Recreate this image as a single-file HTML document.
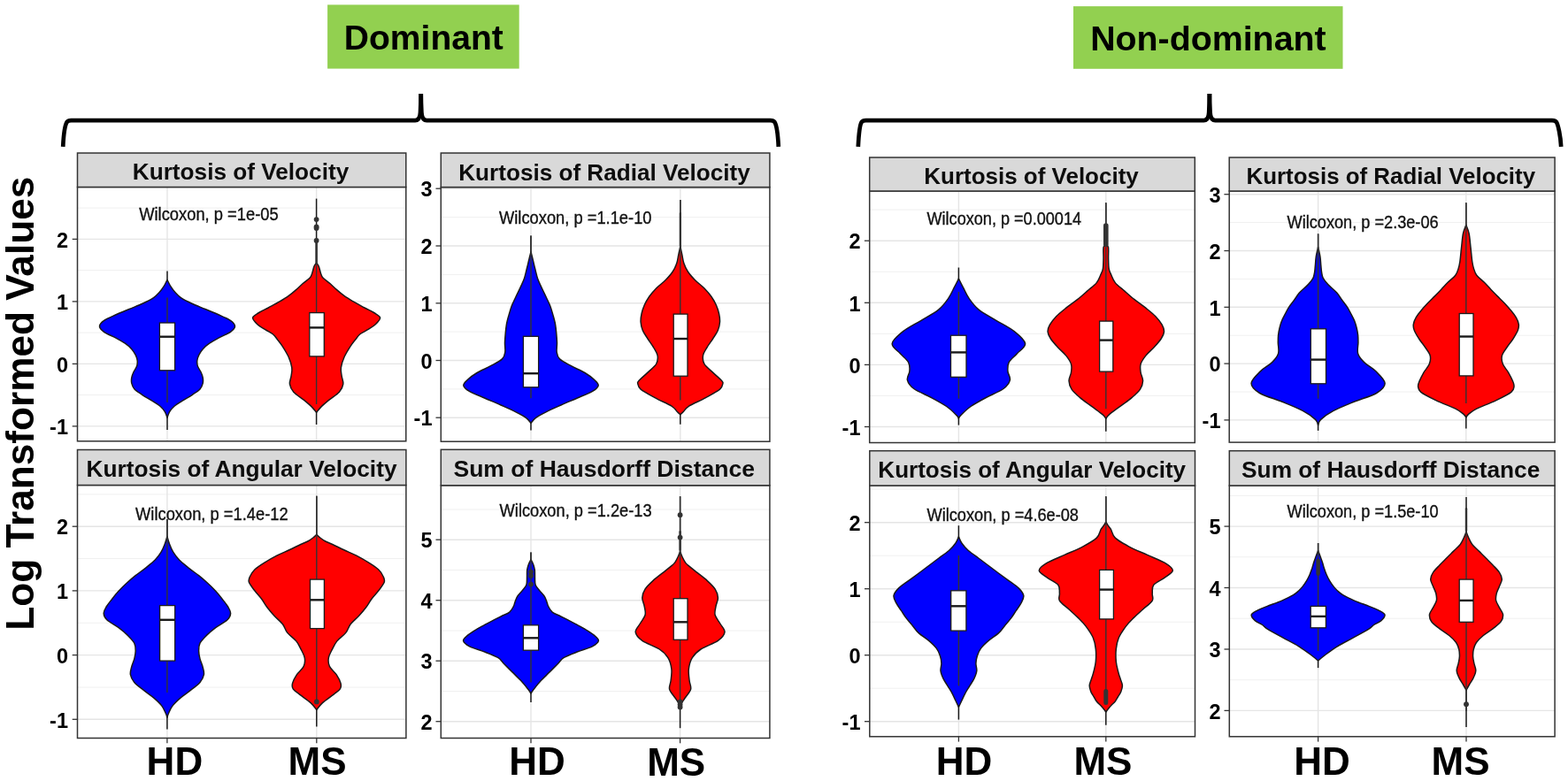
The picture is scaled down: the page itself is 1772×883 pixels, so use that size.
<!DOCTYPE html>
<html><head><meta charset="utf-8"><title>Violin plots</title>
<style>html,body{margin:0;padding:0;background:#fff;overflow:hidden;width:1772px;height:883px;}svg{display:block;}</style>
</head><body>
<svg width="1772" height="883" viewBox="0 0 1772 883">
<rect width="1772" height="883" fill="#ffffff"/>
<rect x="370.1" y="5.4" width="216.6" height="72.2" fill="#92D050"/>
<text x="478.8" y="55.7" text-anchor="middle" font-family="Liberation Sans, Arial, sans-serif" font-weight="bold" font-size="38.8" textLength="180" lengthAdjust="spacingAndGlyphs" fill="#000">Dominant</text>
<rect x="1213" y="7.1" width="304.5" height="70.7" fill="#92D050"/>
<text x="1365.4" y="56.8" text-anchor="middle" font-family="Liberation Sans, Arial, sans-serif" font-weight="bold" font-size="38.3" textLength="266.5" lengthAdjust="spacingAndGlyphs" fill="#000">Non-dominant</text>
<path d="M71.2,165.8 C71.8,153.8 73.7,141.1 75.5,138.1 Q76.9,136.1 80.5,136.1 L469.2,136.1 C473.5,136.1 474.7,132.1 475.0,127.1 C475.34999999999997,120.1 475.59999999999997,114.1 475.59999999999997,106.1" fill="none" stroke="#000" stroke-width="4.7" stroke-linejoin="round"/>
<path d="M475.8,106.1 C475.8,114.1 476.05,120.1 476.4,127.1 C476.7,132.1 477.9,136.1 482.2,136.1 L870.5,136.1 Q874.1,136.1 875.5,138.1 C877.3,141.1 879.1999999999999,153.8 879.8,165.8" fill="none" stroke="#000" stroke-width="4.7" stroke-linejoin="round"/>
<path d="M969.8,165.8 C970.4,153.8 971.8000000000001,141.1 973.6,138.1 Q975.0,136.1 978.6,136.1 L1360.4,136.1 C1364.7,136.1 1365.9,132.1 1366.2,127.1 C1366.5500000000002,120.1 1366.8000000000002,114.1 1366.8000000000002,106.1" fill="none" stroke="#000" stroke-width="4.7" stroke-linejoin="round"/>
<path d="M1367.0,106.1 C1367.0,114.1 1367.25,120.1 1367.6000000000001,127.1 C1367.9,132.1 1369.1000000000001,136.1 1373.4,136.1 L1754.0,136.1 Q1757.6,136.1 1759.0,138.1 C1760.8,141.1 1763.6000000000001,153.8 1764.2,165.8" fill="none" stroke="#000" stroke-width="4.7" stroke-linejoin="round"/>
<text transform="translate(38,456.2) rotate(-90)" text-anchor="middle" font-family="Liberation Sans, Arial, sans-serif" font-weight="bold" font-size="44" textLength="513" lengthAdjust="spacingAndGlyphs" fill="#000">Log Transformed Values</text>
<g>
<line x1="87.5" y1="446.6" x2="458.8" y2="446.6" stroke="#F0F0F0" stroke-width="1"/>
<line x1="87.5" y1="376.1" x2="458.8" y2="376.1" stroke="#F0F0F0" stroke-width="1"/>
<line x1="87.5" y1="305.6" x2="458.8" y2="305.6" stroke="#F0F0F0" stroke-width="1"/>
<line x1="87.5" y1="235.1" x2="458.8" y2="235.1" stroke="#F0F0F0" stroke-width="1"/>
<line x1="87.5" y1="481.9" x2="458.8" y2="481.9" stroke="#E5E5E5" stroke-width="1.4"/>
<line x1="87.5" y1="411.4" x2="458.8" y2="411.4" stroke="#E5E5E5" stroke-width="1.4"/>
<line x1="87.5" y1="340.9" x2="458.8" y2="340.9" stroke="#E5E5E5" stroke-width="1.4"/>
<line x1="87.5" y1="270.4" x2="458.8" y2="270.4" stroke="#E5E5E5" stroke-width="1.4"/>
<line x1="189.0" y1="211.5" x2="189.0" y2="498.8" stroke="#E5E5E5" stroke-width="1.4"/>
<line x1="357.6" y1="211.5" x2="357.6" y2="498.8" stroke="#E5E5E5" stroke-width="1.4"/>
<line x1="189.0" y1="306.5" x2="189.0" y2="318.5" stroke="#1a1a1a" stroke-width="1.5"/>
<line x1="189.0" y1="470.2" x2="189.0" y2="486.1" stroke="#1a1a1a" stroke-width="1.5"/>
<path d="M189.0,316.5C188.7,317.1 187.8,318.8 187.2,320.0C186.6,321.2 186.3,322.0 185.2,323.7C184.1,325.4 182.4,328.0 180.5,330.1C178.6,332.2 176.7,334.5 173.5,336.6C170.3,338.8 166.1,340.9 161.5,343.0C156.9,345.1 151.2,347.3 146.0,349.5C140.8,351.7 135.2,353.9 130.5,356.0C125.8,358.1 120.6,360.2 117.6,362.4C114.6,364.5 112.5,366.8 112.5,368.9C112.5,371.0 114.6,373.1 117.6,375.3C120.6,377.5 126.5,379.7 130.5,381.8C134.4,383.9 138.2,386.1 141.3,388.2C144.4,390.3 146.8,392.5 148.8,394.7C150.8,396.9 152.0,399.0 153.1,401.1C154.2,403.2 154.9,405.4 155.2,407.6C155.4,409.8 155.3,412.0 154.6,414.1C153.9,416.2 152.0,418.4 151.0,420.5C150.0,422.6 149.2,424.9 148.8,427.0C148.4,429.1 148.3,431.2 148.8,433.4C149.3,435.5 150.0,437.8 152.0,439.9C154.0,442.0 157.4,444.1 160.6,446.3C163.8,448.5 168.0,450.7 171.4,452.8C174.8,454.9 178.5,457.1 181.0,459.2C183.5,461.3 185.1,463.5 186.4,465.7C187.7,467.9 188.6,471.1 189.0,472.2C189.4,471.1 190.3,467.9 191.6,465.7C192.9,463.5 194.5,461.3 197.0,459.2C199.5,457.1 203.2,454.9 206.6,452.8C210.0,450.7 214.2,448.5 217.4,446.3C220.6,444.1 224.0,442.0 226.0,439.9C228.0,437.8 228.7,435.5 229.2,433.4C229.7,431.2 229.6,429.1 229.2,427.0C228.8,424.9 228.0,422.6 227.0,420.5C226.0,418.4 224.1,416.2 223.4,414.1C222.7,412.0 222.6,409.8 222.8,407.6C223.1,405.4 223.8,403.2 224.9,401.1C226.0,399.0 227.2,396.9 229.2,394.7C231.2,392.5 233.6,390.3 236.7,388.2C239.8,386.1 243.6,383.9 247.5,381.8C251.4,379.7 257.4,377.5 260.4,375.3C263.4,373.1 265.5,371.0 265.5,368.9C265.5,366.8 263.4,364.5 260.4,362.4C257.4,360.2 252.2,358.1 247.5,356.0C242.8,353.9 237.2,351.7 232.0,349.5C226.8,347.3 221.1,345.1 216.5,343.0C211.9,340.9 207.7,338.8 204.5,336.6C201.3,334.5 199.4,332.2 197.5,330.1C195.6,328.0 193.9,325.4 192.8,323.7C191.7,322.0 191.4,321.2 190.8,320.0C190.2,318.8 189.3,317.1 189.0,316.5Z" fill="#0000FF" stroke="#1a1a1a" stroke-width="1.5" stroke-linejoin="round"/>
<line x1="189.0" y1="336.6" x2="189.0" y2="454.9" stroke="#333333" stroke-width="1.4"/>
<rect x="180.4" y="365.0" width="17.2" height="53.8" fill="#FFFFFF" stroke="#1a1a1a" stroke-width="1.3"/>
<line x1="180.4" y1="380.7" x2="197.6" y2="380.7" stroke="#1a1a1a" stroke-width="2.4"/>
<line x1="357.6" y1="224.6" x2="357.6" y2="299" stroke="#1a1a1a" stroke-width="1.5"/>
<line x1="357.6" y1="464.2" x2="357.6" y2="480.0" stroke="#1a1a1a" stroke-width="1.5"/>
<path d="M357.6,297.0C357.2,297.7 355.8,299.1 355.0,301.0C354.2,302.9 353.6,306.5 352.8,308.7C352.0,310.9 352.1,312.0 350.3,314.0C348.5,316.0 344.6,318.5 342.0,320.8C339.4,323.1 337.2,325.3 334.6,327.6C332.0,329.9 329.5,332.1 326.3,334.4C323.1,336.7 319.5,338.9 315.6,341.2C311.8,343.5 307.0,345.9 303.2,348.0C299.4,350.1 295.5,351.6 292.6,353.5C289.7,355.4 285.9,357.0 285.6,359.2C285.3,361.4 288.5,364.5 290.9,366.8C293.3,369.1 297.2,371.0 300.1,372.9C303.1,374.8 306.4,376.1 308.6,378.0C310.9,379.9 311.9,381.8 313.6,384.0C315.4,386.2 317.0,388.1 319.1,391.3C321.2,394.6 324.3,399.4 326.1,403.5C327.9,407.6 329.3,412.1 329.8,415.7C330.3,419.3 329.5,421.8 329.1,424.9C328.7,428.0 327.0,431.1 327.4,434.1C327.9,437.2 329.1,440.1 331.8,443.2C334.5,446.2 340.2,449.6 343.6,452.4C347.0,455.2 350.1,457.8 352.4,460.1C354.7,462.4 356.7,465.2 357.6,466.2C358.5,465.2 360.5,462.4 362.8,460.1C365.1,457.8 368.2,455.2 371.6,452.4C375.0,449.6 380.7,446.2 383.4,443.2C386.1,440.1 387.4,437.2 387.8,434.1C388.2,431.1 386.5,428.0 386.1,424.9C385.7,421.8 384.9,419.3 385.4,415.7C385.9,412.1 387.3,407.6 389.1,403.5C390.9,399.4 394.0,394.6 396.1,391.3C398.2,388.1 399.9,386.2 401.6,384.0C403.4,381.8 404.4,379.9 406.6,378.0C408.9,376.1 412.2,374.8 415.1,372.9C418.1,371.0 421.9,369.1 424.3,366.8C426.7,364.5 429.9,361.4 429.6,359.2C429.3,357.0 425.5,355.4 422.6,353.5C419.7,351.6 415.8,350.1 412.0,348.0C408.2,345.9 403.5,343.5 399.6,341.2C395.8,338.9 392.1,336.7 388.9,334.4C385.7,332.1 383.2,329.9 380.6,327.6C378.0,325.3 375.8,323.1 373.2,320.8C370.6,318.5 366.7,316.0 364.9,314.0C363.1,312.0 363.2,310.9 362.4,308.7C361.6,306.5 361.0,302.9 360.2,301.0C359.4,299.1 358.0,297.7 357.6,297.0Z" fill="#FF0000" stroke="#1a1a1a" stroke-width="1.5" stroke-linejoin="round"/>
<line x1="357.6" y1="272" x2="357.6" y2="457" stroke="#333333" stroke-width="1.4"/>
<rect x="356.40" y="270" width="2.4" height="28.0" rx="1.20" fill="#333333"/>
<circle cx="357.6" cy="248.1" r="2.9" fill="#333333"/>
<circle cx="357.6" cy="256.3" r="2.9" fill="#333333"/>
<circle cx="357.6" cy="258.0" r="2.9" fill="#333333"/>
<circle cx="357.6" cy="272.0" r="2.9" fill="#333333"/>
<rect x="349.8" y="353.6" width="16.5" height="49.3" fill="#FFFFFF" stroke="#1a1a1a" stroke-width="1.3"/>
<line x1="349.8" y1="370.4" x2="366.3" y2="370.4" stroke="#1a1a1a" stroke-width="2.4"/>
<rect x="87.5" y="211.5" width="371.3" height="287.3" fill="none" stroke="#333333" stroke-width="1.5"/>
<rect x="87.5" y="173.0" width="371.3" height="38.5" fill="#D9D9D9" stroke="#333333" stroke-width="1.5"/>
<text x="272.0" y="203.4" text-anchor="middle" font-family="Liberation Sans, Arial, sans-serif" font-weight="bold" font-size="25.5" textLength="244.5" lengthAdjust="spacingAndGlyphs" fill="#0d0d0d">Kurtosis of Velocity</text>
<line x1="81.7" y1="481.9" x2="87.5" y2="481.9" stroke="#333333" stroke-width="1.3"/>
<text x="77.0" y="491.1" text-anchor="end" font-family="Liberation Sans, Arial, sans-serif" font-weight="bold" font-size="23.5" fill="#000">-1</text>
<line x1="81.7" y1="411.4" x2="87.5" y2="411.4" stroke="#333333" stroke-width="1.3"/>
<text x="77.0" y="420.6" text-anchor="end" font-family="Liberation Sans, Arial, sans-serif" font-weight="bold" font-size="23.5" fill="#000">0</text>
<line x1="81.7" y1="340.9" x2="87.5" y2="340.9" stroke="#333333" stroke-width="1.3"/>
<text x="77.0" y="350.1" text-anchor="end" font-family="Liberation Sans, Arial, sans-serif" font-weight="bold" font-size="23.5" fill="#000">1</text>
<line x1="81.7" y1="270.4" x2="87.5" y2="270.4" stroke="#333333" stroke-width="1.3"/>
<text x="77.0" y="279.6" text-anchor="end" font-family="Liberation Sans, Arial, sans-serif" font-weight="bold" font-size="23.5" fill="#000">2</text>
<text x="157.2" y="248.6" font-family="Liberation Sans, Arial, sans-serif" font-size="19.3" textLength="157.5" lengthAdjust="spacingAndGlyphs" fill="#111111" stroke="#111111" stroke-width="0.35">Wilcoxon, p =1e-05</text>
</g>
<g>
<line x1="498.3" y1="439.9" x2="869.9" y2="439.9" stroke="#F0F0F0" stroke-width="1"/>
<line x1="498.3" y1="375.1" x2="869.9" y2="375.1" stroke="#F0F0F0" stroke-width="1"/>
<line x1="498.3" y1="310.4" x2="869.9" y2="310.4" stroke="#F0F0F0" stroke-width="1"/>
<line x1="498.3" y1="245.6" x2="869.9" y2="245.6" stroke="#F0F0F0" stroke-width="1"/>
<line x1="498.3" y1="472.2" x2="869.9" y2="472.2" stroke="#E5E5E5" stroke-width="1.4"/>
<line x1="498.3" y1="407.5" x2="869.9" y2="407.5" stroke="#E5E5E5" stroke-width="1.4"/>
<line x1="498.3" y1="342.8" x2="869.9" y2="342.8" stroke="#E5E5E5" stroke-width="1.4"/>
<line x1="498.3" y1="278.0" x2="869.9" y2="278.0" stroke="#E5E5E5" stroke-width="1.4"/>
<line x1="498.3" y1="213.2" x2="869.9" y2="213.2" stroke="#E5E5E5" stroke-width="1.4"/>
<line x1="600.0" y1="211.6" x2="600.0" y2="499.2" stroke="#E5E5E5" stroke-width="1.4"/>
<line x1="768.8" y1="211.6" x2="768.8" y2="499.2" stroke="#E5E5E5" stroke-width="1.4"/>
<line x1="600.0" y1="266.5" x2="600.0" y2="286.7" stroke="#1a1a1a" stroke-width="1.5"/>
<line x1="600.0" y1="476.3" x2="600.0" y2="486.6" stroke="#1a1a1a" stroke-width="1.5"/>
<path d="M600.0,284.7C599.6,286.2 598.5,290.6 597.7,293.9C596.9,297.2 596.1,300.8 595.2,304.3C594.3,307.8 593.7,311.2 592.5,314.7C591.3,318.2 589.6,321.6 588.0,325.1C586.4,328.6 584.6,332.0 583.0,335.5C581.4,339.0 579.5,342.5 578.2,346.0C576.9,349.5 576.0,352.9 575.0,356.4C574.0,359.9 573.0,363.3 572.4,366.8C571.8,370.3 571.5,373.7 571.2,377.2C570.9,380.7 570.6,384.1 570.5,387.6C570.4,391.1 571.3,395.1 570.8,398.1C570.3,401.2 570.2,403.3 567.5,405.9C564.8,408.5 559.2,411.1 554.5,413.7C549.8,416.3 543.3,418.9 539.0,421.5C534.7,424.1 531.0,426.9 528.5,429.3C526.0,431.7 523.5,433.6 523.8,435.8C524.1,438.0 526.4,439.9 530.4,442.3C534.4,444.7 542.1,447.6 548.0,450.2C553.9,452.8 560.2,455.4 566.0,458.0C571.8,460.6 578.2,463.4 583.0,465.8C587.8,468.2 591.7,470.2 594.5,472.3C597.3,474.4 599.1,477.3 600.0,478.3C600.9,477.3 602.7,474.4 605.5,472.3C608.3,470.2 612.2,468.2 617.0,465.8C621.8,463.4 628.2,460.6 634.0,458.0C639.8,455.4 646.1,452.8 652.0,450.2C657.9,447.6 665.6,444.7 669.6,442.3C673.6,439.9 675.9,438.0 676.2,435.8C676.5,433.6 674.0,431.7 671.5,429.3C669.0,426.9 665.3,424.1 661.0,421.5C656.7,418.9 650.2,416.3 645.5,413.7C640.8,411.1 635.2,408.5 632.5,405.9C629.8,403.3 629.7,401.2 629.2,398.1C628.7,395.1 629.6,391.1 629.5,387.6C629.4,384.1 629.1,380.7 628.8,377.2C628.5,373.7 628.2,370.3 627.6,366.8C627.0,363.3 626.0,359.9 625.0,356.4C624.0,352.9 623.1,349.5 621.8,346.0C620.5,342.5 618.6,339.0 617.0,335.5C615.4,332.0 613.6,328.6 612.0,325.1C610.4,321.6 608.7,318.2 607.5,314.7C606.3,311.2 605.7,307.8 604.8,304.3C603.9,300.8 603.1,297.2 602.3,293.9C601.5,290.6 600.4,286.2 600.0,284.7Z" fill="#0000FF" stroke="#1a1a1a" stroke-width="1.5" stroke-linejoin="round"/>
<line x1="600.0" y1="266.5" x2="600.0" y2="450.2" stroke="#333333" stroke-width="1.4"/>
<rect x="591.4" y="380.3" width="17.2" height="57.5" fill="#FFFFFF" stroke="#1a1a1a" stroke-width="1.3"/>
<line x1="591.4" y1="422.2" x2="608.6" y2="422.2" stroke="#1a1a1a" stroke-width="2.4"/>
<line x1="768.8" y1="226.1" x2="768.8" y2="280.4" stroke="#1a1a1a" stroke-width="1.5"/>
<line x1="768.8" y1="466.6" x2="768.8" y2="479.7" stroke="#1a1a1a" stroke-width="1.5"/>
<path d="M768.8,278.4C768.5,280.0 767.5,284.7 766.8,287.9C766.1,291.1 765.9,294.2 764.8,297.4C763.7,300.6 762.4,303.8 760.3,307.0C758.2,310.2 755.4,313.3 752.3,316.5C749.2,319.7 744.7,322.8 741.6,326.0C738.5,329.2 735.8,332.3 733.6,335.5C731.4,338.7 729.6,341.8 728.2,345.0C726.8,348.2 725.8,351.3 725.1,354.5C724.4,357.7 723.9,360.8 724.1,364.0C724.3,367.2 725.0,370.3 726.3,373.5C727.6,376.7 730.0,379.8 732.0,383.0C734.0,386.2 736.5,389.3 738.4,392.5C740.2,395.7 742.6,398.8 743.1,402.0C743.6,405.2 743.4,408.4 741.6,411.6C739.7,414.8 735.3,417.9 732.0,421.1C728.7,424.3 723.8,428.5 721.9,430.6C720.0,432.7 720.4,432.2 720.8,433.8C721.2,435.4 720.9,437.5 724.1,440.1C727.3,442.7 734.2,446.4 740.0,449.6C745.8,452.8 754.8,456.5 759.0,459.1C763.2,461.8 763.7,463.9 765.3,465.5C766.9,467.1 768.2,468.1 768.8,468.6C769.4,468.1 770.7,467.1 772.3,465.5C773.9,463.9 774.4,461.8 778.6,459.1C782.8,456.5 791.8,452.8 797.6,449.6C803.4,446.4 810.3,442.7 813.5,440.1C816.7,437.5 816.4,435.4 816.8,433.8C817.2,432.2 817.6,432.7 815.7,430.6C813.8,428.5 808.9,424.3 805.6,421.1C802.3,417.9 797.9,414.8 796.0,411.6C794.1,408.4 794.0,405.2 794.5,402.0C795.0,398.8 797.3,395.7 799.2,392.5C801.0,389.3 803.6,386.2 805.6,383.0C807.6,379.8 810.0,376.7 811.3,373.5C812.6,370.3 813.3,367.2 813.5,364.0C813.7,360.8 813.2,357.7 812.5,354.5C811.8,351.3 810.8,348.2 809.4,345.0C808.0,341.8 806.2,338.7 804.0,335.5C801.8,332.3 799.1,329.2 796.0,326.0C792.9,322.8 788.4,319.7 785.3,316.5C782.2,313.3 779.4,310.2 777.3,307.0C775.2,303.8 773.9,300.6 772.8,297.4C771.7,294.2 771.5,291.1 770.8,287.9C770.1,284.7 769.1,280.0 768.8,278.4Z" fill="#FF0000" stroke="#1a1a1a" stroke-width="1.5" stroke-linejoin="round"/>
<line x1="768.8" y1="226.1" x2="768.8" y2="452.6" stroke="#333333" stroke-width="1.4"/>
<rect x="767.70" y="240" width="2.2" height="39.0" rx="1.10" fill="#333333"/>
<rect x="761.2" y="355.1" width="15.8" height="70.1" fill="#FFFFFF" stroke="#1a1a1a" stroke-width="1.3"/>
<line x1="761.2" y1="383.0" x2="777.0" y2="383.0" stroke="#1a1a1a" stroke-width="2.4"/>
<rect x="498.3" y="211.6" width="371.6" height="287.6" fill="none" stroke="#333333" stroke-width="1.5"/>
<rect x="498.3" y="173.0" width="371.6" height="38.6" fill="#D9D9D9" stroke="#333333" stroke-width="1.5"/>
<text x="683.0" y="203.8" text-anchor="middle" font-family="Liberation Sans, Arial, sans-serif" font-weight="bold" font-size="25.5" textLength="329.5" lengthAdjust="spacingAndGlyphs" fill="#0d0d0d">Kurtosis of Radial Velocity</text>
<line x1="492.5" y1="472.2" x2="498.3" y2="472.2" stroke="#333333" stroke-width="1.3"/>
<text x="488.5" y="481.4" text-anchor="end" font-family="Liberation Sans, Arial, sans-serif" font-weight="bold" font-size="23.5" fill="#000">-1</text>
<line x1="492.5" y1="407.5" x2="498.3" y2="407.5" stroke="#333333" stroke-width="1.3"/>
<text x="488.5" y="416.7" text-anchor="end" font-family="Liberation Sans, Arial, sans-serif" font-weight="bold" font-size="23.5" fill="#000">0</text>
<line x1="492.5" y1="342.8" x2="498.3" y2="342.8" stroke="#333333" stroke-width="1.3"/>
<text x="488.5" y="351.9" text-anchor="end" font-family="Liberation Sans, Arial, sans-serif" font-weight="bold" font-size="23.5" fill="#000">1</text>
<line x1="492.5" y1="278.0" x2="498.3" y2="278.0" stroke="#333333" stroke-width="1.3"/>
<text x="488.5" y="287.2" text-anchor="end" font-family="Liberation Sans, Arial, sans-serif" font-weight="bold" font-size="23.5" fill="#000">2</text>
<line x1="492.5" y1="213.2" x2="498.3" y2="213.2" stroke="#333333" stroke-width="1.3"/>
<text x="488.5" y="222.4" text-anchor="end" font-family="Liberation Sans, Arial, sans-serif" font-weight="bold" font-size="23.5" fill="#000">3</text>
<text x="564.0" y="253.0" font-family="Liberation Sans, Arial, sans-serif" font-size="19.3" textLength="172.5" lengthAdjust="spacingAndGlyphs" fill="#111111" stroke="#111111" stroke-width="0.35">Wilcoxon, p =1.1e-10</text>
</g>
<g>
<line x1="87.5" y1="777.0" x2="458.9" y2="777.0" stroke="#F0F0F0" stroke-width="1"/>
<line x1="87.5" y1="704.2" x2="458.9" y2="704.2" stroke="#F0F0F0" stroke-width="1"/>
<line x1="87.5" y1="631.5" x2="458.9" y2="631.5" stroke="#F0F0F0" stroke-width="1"/>
<line x1="87.5" y1="558.9" x2="458.9" y2="558.9" stroke="#F0F0F0" stroke-width="1"/>
<line x1="87.5" y1="813.3" x2="458.9" y2="813.3" stroke="#E5E5E5" stroke-width="1.4"/>
<line x1="87.5" y1="740.6" x2="458.9" y2="740.6" stroke="#E5E5E5" stroke-width="1.4"/>
<line x1="87.5" y1="667.9" x2="458.9" y2="667.9" stroke="#E5E5E5" stroke-width="1.4"/>
<line x1="87.5" y1="595.2" x2="458.9" y2="595.2" stroke="#E5E5E5" stroke-width="1.4"/>
<line x1="188.9" y1="548.5" x2="188.9" y2="834.5" stroke="#E5E5E5" stroke-width="1.4"/>
<line x1="357.8" y1="548.5" x2="357.8" y2="834.5" stroke="#E5E5E5" stroke-width="1.4"/>
<line x1="188.9" y1="587.0" x2="188.9" y2="608.5" stroke="#1a1a1a" stroke-width="1.5"/>
<line x1="188.9" y1="809.2" x2="188.9" y2="824.4" stroke="#1a1a1a" stroke-width="1.5"/>
<path d="M188.9,606.5C188.5,608.0 187.3,612.3 186.2,615.3C185.1,618.2 183.9,621.2 182.1,624.2C180.3,627.2 178.2,630.1 175.3,633.0C172.5,635.9 168.7,638.8 165.0,641.8C161.3,644.8 156.9,647.8 153.2,650.7C149.5,653.7 146.1,656.6 142.9,659.5C139.7,662.4 136.8,665.3 134.1,668.3C131.4,671.2 129.0,674.2 126.7,677.2C124.4,680.2 121.8,683.3 120.2,686.0C118.6,688.7 117.1,690.9 117.2,693.4C117.3,695.9 118.0,698.0 120.8,700.7C123.6,703.4 130.2,706.7 134.1,709.6C138.0,712.5 141.5,715.5 144.4,718.4C147.3,721.3 150.3,724.2 151.8,727.2C153.3,730.2 153.2,733.2 153.2,736.1C153.2,739.0 152.5,742.0 151.8,744.9C151.1,747.8 149.5,750.8 148.8,753.7C148.1,756.7 146.9,759.7 147.4,762.6C147.9,765.5 149.4,768.5 151.8,771.4C154.2,774.3 158.4,777.2 162.1,780.2C165.8,783.2 170.5,786.2 173.9,789.1C177.3,792.0 180.5,795.0 182.7,797.9C185.0,800.8 186.4,804.5 187.4,806.7C188.4,808.9 188.7,810.5 188.9,811.2C189.2,810.5 189.4,808.9 190.4,806.7C191.4,804.5 192.8,800.8 195.1,797.9C197.3,795.0 200.5,792.0 203.9,789.1C207.3,786.2 212.0,783.2 215.7,780.2C219.4,777.2 223.6,774.3 226.0,771.4C228.4,768.5 229.9,765.5 230.4,762.6C230.9,759.7 229.7,756.7 229.0,753.7C228.3,750.8 226.7,747.8 226.0,744.9C225.3,742.0 224.6,739.0 224.6,736.1C224.6,733.2 224.5,730.2 226.0,727.2C227.5,724.2 230.5,721.3 233.4,718.4C236.3,715.5 239.8,712.5 243.7,709.6C247.6,706.7 254.2,703.4 257.0,700.7C259.8,698.0 260.5,695.9 260.6,693.4C260.7,690.9 259.2,688.7 257.6,686.0C256.0,683.3 253.4,680.2 251.1,677.2C248.8,674.2 246.4,671.2 243.7,668.3C241.0,665.3 238.1,662.4 234.9,659.5C231.7,656.6 228.3,653.7 224.6,650.7C220.9,647.8 216.5,644.8 212.8,641.8C209.1,638.8 205.3,635.9 202.5,633.0C199.7,630.1 197.5,627.2 195.7,624.2C193.9,621.2 192.7,618.2 191.6,615.3C190.5,612.3 189.3,608.0 188.9,606.5Z" fill="#0000FF" stroke="#1a1a1a" stroke-width="1.5" stroke-linejoin="round"/>
<line x1="188.9" y1="587" x2="188.9" y2="783" stroke="#333333" stroke-width="1.4"/>
<rect x="180.6" y="684.6" width="17.1" height="62.5" fill="#FFFFFF" stroke="#1a1a1a" stroke-width="1.3"/>
<line x1="180.6" y1="700.8" x2="197.7" y2="700.8" stroke="#1a1a1a" stroke-width="2.4"/>
<line x1="357.8" y1="560.8" x2="357.8" y2="606.4" stroke="#1a1a1a" stroke-width="1.5"/>
<line x1="357.8" y1="800.5" x2="357.8" y2="821.6" stroke="#1a1a1a" stroke-width="1.5"/>
<path d="M357.8,604.4C357.1,605.0 355.5,606.7 353.8,608.0C352.1,609.3 350.1,610.8 347.8,612.0C345.5,613.2 343.3,613.9 339.8,615.5C336.3,617.1 331.3,619.7 326.8,621.8C322.3,623.9 317.4,625.8 312.8,628.2C308.2,630.6 303.1,633.5 298.9,636.1C294.7,638.7 290.6,641.4 287.8,644.0C285.1,646.6 283.5,649.6 282.4,652.0C281.3,654.4 280.5,655.7 281.4,658.3C282.3,660.9 285.4,664.6 287.8,667.8C290.2,671.0 293.3,674.1 295.7,677.3C298.1,680.5 299.6,683.6 302.0,686.8C304.4,690.0 307.1,693.1 310.0,696.3C312.9,699.5 317.0,702.6 319.5,705.8C322.0,709.0 322.2,712.2 324.8,715.4C327.4,718.6 332.2,721.7 334.8,724.9C337.4,728.1 338.7,731.2 340.3,734.4C341.9,737.6 343.8,740.7 344.3,743.9C344.8,747.1 344.7,750.2 343.2,753.4C341.7,756.6 337.4,759.7 335.3,762.9C333.2,766.1 331.3,769.8 330.6,772.4C329.9,775.0 329.9,776.7 331.2,778.8C332.5,780.9 335.2,782.5 338.5,785.1C341.8,787.7 347.9,791.7 351.1,794.6C354.3,797.5 356.7,801.2 357.8,802.5C358.9,801.2 361.3,797.5 364.5,794.6C367.7,791.7 373.8,787.7 377.1,785.1C380.4,782.5 383.1,780.9 384.4,778.8C385.7,776.7 385.7,775.0 385.0,772.4C384.3,769.8 382.4,766.1 380.3,762.9C378.2,759.7 373.9,756.6 372.4,753.4C370.9,750.2 370.8,747.1 371.3,743.9C371.8,740.7 373.7,737.6 375.3,734.4C376.9,731.2 378.2,728.1 380.8,724.9C383.4,721.7 388.2,718.6 390.8,715.4C393.4,712.2 393.6,709.0 396.1,705.8C398.6,702.6 402.7,699.5 405.6,696.3C408.5,693.1 411.2,690.0 413.6,686.8C416.0,683.6 417.5,680.5 419.9,677.3C422.3,674.1 425.4,671.0 427.8,667.8C430.2,664.6 433.3,660.9 434.2,658.3C435.1,655.7 434.3,654.4 433.2,652.0C432.1,649.6 430.6,646.6 427.8,644.0C425.1,641.4 420.9,638.7 416.7,636.1C412.5,633.5 407.4,630.6 402.8,628.2C398.2,625.8 393.3,623.9 388.8,621.8C384.3,619.7 379.3,617.1 375.8,615.5C372.3,613.9 370.1,613.2 367.8,612.0C365.5,610.8 363.5,609.3 361.8,608.0C360.1,606.7 358.5,605.0 357.8,604.4Z" fill="#FF0000" stroke="#1a1a1a" stroke-width="1.5" stroke-linejoin="round"/>
<line x1="357.8" y1="560.8" x2="357.8" y2="793.4" stroke="#333333" stroke-width="1.4"/>
<circle cx="357.8" cy="793.4" r="2.9" fill="#333333"/>
<rect x="350.5" y="655.1" width="15.9" height="55.5" fill="#FFFFFF" stroke="#1a1a1a" stroke-width="1.3"/>
<line x1="350.5" y1="678.3" x2="366.4" y2="678.3" stroke="#1a1a1a" stroke-width="2.4"/>
<rect x="87.5" y="548.5" width="371.4" height="286.0" fill="none" stroke="#333333" stroke-width="1.5"/>
<rect x="87.5" y="508.5" width="371.4" height="40.0" fill="#D9D9D9" stroke="#333333" stroke-width="1.5"/>
<text x="273.0" y="539.0" text-anchor="middle" font-family="Liberation Sans, Arial, sans-serif" font-weight="bold" font-size="25.5" textLength="351.0" lengthAdjust="spacingAndGlyphs" fill="#0d0d0d">Kurtosis of Angular Velocity</text>
<line x1="81.7" y1="813.3" x2="87.5" y2="813.3" stroke="#333333" stroke-width="1.3"/>
<text x="77.0" y="822.5" text-anchor="end" font-family="Liberation Sans, Arial, sans-serif" font-weight="bold" font-size="23.5" fill="#000">-1</text>
<line x1="81.7" y1="740.6" x2="87.5" y2="740.6" stroke="#333333" stroke-width="1.3"/>
<text x="77.0" y="749.8" text-anchor="end" font-family="Liberation Sans, Arial, sans-serif" font-weight="bold" font-size="23.5" fill="#000">0</text>
<line x1="81.7" y1="667.9" x2="87.5" y2="667.9" stroke="#333333" stroke-width="1.3"/>
<text x="77.0" y="677.1" text-anchor="end" font-family="Liberation Sans, Arial, sans-serif" font-weight="bold" font-size="23.5" fill="#000">1</text>
<line x1="81.7" y1="595.2" x2="87.5" y2="595.2" stroke="#333333" stroke-width="1.3"/>
<text x="77.0" y="604.4" text-anchor="end" font-family="Liberation Sans, Arial, sans-serif" font-weight="bold" font-size="23.5" fill="#000">2</text>
<line x1="188.9" y1="834.5" x2="188.9" y2="840.3" stroke="#333333" stroke-width="1.3"/>
<line x1="357.8" y1="834.5" x2="357.8" y2="840.3" stroke="#333333" stroke-width="1.3"/>
<text x="153.1" y="588.4" font-family="Liberation Sans, Arial, sans-serif" font-size="19.3" textLength="172.5" lengthAdjust="spacingAndGlyphs" fill="#111111" stroke="#111111" stroke-width="0.35">Wilcoxon, p =1.4e-12</text>
</g>
<g>
<line x1="498.3" y1="781.5" x2="869.9" y2="781.5" stroke="#F0F0F0" stroke-width="1"/>
<line x1="498.3" y1="713.0" x2="869.9" y2="713.0" stroke="#F0F0F0" stroke-width="1"/>
<line x1="498.3" y1="644.5" x2="869.9" y2="644.5" stroke="#F0F0F0" stroke-width="1"/>
<line x1="498.3" y1="576.0" x2="869.9" y2="576.0" stroke="#F0F0F0" stroke-width="1"/>
<line x1="498.3" y1="815.7" x2="869.9" y2="815.7" stroke="#E5E5E5" stroke-width="1.4"/>
<line x1="498.3" y1="747.2" x2="869.9" y2="747.2" stroke="#E5E5E5" stroke-width="1.4"/>
<line x1="498.3" y1="678.7" x2="869.9" y2="678.7" stroke="#E5E5E5" stroke-width="1.4"/>
<line x1="498.3" y1="610.2" x2="869.9" y2="610.2" stroke="#E5E5E5" stroke-width="1.4"/>
<line x1="600.0" y1="548.8" x2="600.0" y2="834.5" stroke="#E5E5E5" stroke-width="1.4"/>
<line x1="768.6" y1="548.8" x2="768.6" y2="834.5" stroke="#E5E5E5" stroke-width="1.4"/>
<line x1="600.0" y1="624.6" x2="600.0" y2="634.6" stroke="#1a1a1a" stroke-width="1.5"/>
<line x1="600.0" y1="782" x2="600.0" y2="794.0" stroke="#1a1a1a" stroke-width="1.5"/>
<path d="M600.0,632.6C599.6,633.5 598.1,636.0 597.4,638.0C596.7,640.0 596.0,641.9 595.7,644.4C595.4,646.9 595.6,650.1 595.5,653.0C595.4,655.9 595.7,659.1 594.8,661.6C593.9,664.1 591.6,665.9 589.9,668.1C588.2,670.3 585.8,672.5 584.5,674.6C583.2,676.8 582.6,679.2 581.9,681.0C581.2,682.8 581.3,683.8 580.3,685.6C579.3,687.5 578.0,690.3 575.8,692.1C573.6,693.9 570.2,694.9 567.0,696.5C563.8,698.1 559.7,700.1 556.4,701.8C553.1,703.5 550.0,705.2 547.0,706.8C544.0,708.4 541.7,709.5 538.7,711.4C535.7,713.2 531.5,715.7 529.0,717.9C526.5,720.1 523.3,722.2 523.6,724.4C523.9,726.5 526.5,728.6 530.6,730.8C534.7,732.9 542.9,735.1 548.3,737.3C553.7,739.4 559.5,741.6 563.0,743.7C566.5,745.9 566.6,747.5 569.3,750.2C572.0,752.9 575.8,756.7 579.0,759.9C582.2,763.1 585.7,766.4 588.7,769.6C591.7,772.8 594.9,776.9 596.8,779.3C598.7,781.7 599.5,783.2 600.0,784.0C600.5,783.2 601.3,781.7 603.2,779.3C605.1,776.9 608.3,772.8 611.3,769.6C614.3,766.4 617.8,763.1 621.0,759.9C624.2,756.7 628.0,752.9 630.7,750.2C633.4,747.5 633.5,745.9 637.0,743.7C640.5,741.6 646.3,739.4 651.7,737.3C657.1,735.1 665.3,732.9 669.4,730.8C673.5,728.6 676.1,726.5 676.4,724.4C676.7,722.2 673.5,720.1 671.0,717.9C668.5,715.7 664.3,713.2 661.3,711.4C658.3,709.5 656.0,708.4 653.0,706.8C650.0,705.2 646.9,703.5 643.6,701.8C640.3,700.1 636.2,698.1 633.0,696.5C629.8,694.9 626.4,693.9 624.2,692.1C622.0,690.3 620.7,687.5 619.7,685.6C618.7,683.8 618.8,682.8 618.1,681.0C617.4,679.2 616.8,676.8 615.5,674.6C614.2,672.5 611.8,670.3 610.1,668.1C608.4,665.9 606.1,664.1 605.2,661.6C604.3,659.1 604.6,655.9 604.5,653.0C604.4,650.1 604.6,646.9 604.3,644.4C604.0,641.9 603.3,640.0 602.6,638.0C601.9,636.0 600.4,633.5 600.0,632.6Z" fill="#0000FF" stroke="#1a1a1a" stroke-width="1.5" stroke-linejoin="round"/>
<line x1="600.0" y1="624.6" x2="600.0" y2="771.4" stroke="#333333" stroke-width="1.4"/>
<circle cx="600.0" cy="646.6" r="2.9" fill="#333333"/>
<circle cx="600.0" cy="650.9" r="2.9" fill="#333333"/>
<circle cx="600.0" cy="660.6" r="2.9" fill="#333333"/>
<rect x="591.4" y="706.8" width="17.2" height="28.4" fill="#FFFFFF" stroke="#1a1a1a" stroke-width="1.3"/>
<line x1="591.4" y1="721.3" x2="608.6" y2="721.3" stroke="#1a1a1a" stroke-width="2.4"/>
<line x1="768.6" y1="561.2" x2="768.6" y2="625.4" stroke="#1a1a1a" stroke-width="1.5"/>
<line x1="768.6" y1="798" x2="768.6" y2="823.2" stroke="#1a1a1a" stroke-width="1.5"/>
<path d="M768.6,623.4C768.2,624.5 767.1,627.7 766.1,629.8C765.1,631.9 763.9,634.3 762.6,636.1C761.3,637.9 760.2,638.6 758.1,640.4C756.0,642.2 753.4,644.2 750.0,646.9C746.6,649.6 741.4,653.4 737.9,656.6C734.4,659.8 731.0,663.0 729.0,666.2C727.0,669.4 725.9,672.7 725.8,675.9C725.7,679.1 727.7,682.4 728.2,685.6C728.8,688.8 729.9,692.1 729.1,695.3C728.3,698.5 725.2,701.8 723.4,705.0C721.6,708.2 717.8,711.5 718.2,714.7C718.6,717.9 721.3,721.2 725.8,724.4C730.3,727.6 740.4,730.8 745.2,734.0C750.1,737.2 752.6,739.9 754.9,743.7C757.2,747.5 758.4,752.4 758.9,756.7C759.4,761.0 758.5,765.8 758.1,769.6C757.7,773.4 755.8,776.1 756.6,779.3C757.4,782.5 761.2,786.3 763.0,789.0C764.8,791.7 766.2,793.6 767.1,795.4C768.0,797.2 768.4,799.2 768.6,800.0C768.9,799.2 769.2,797.2 770.1,795.4C771.0,793.6 772.5,791.7 774.2,789.0C776.0,786.3 779.8,782.5 780.6,779.3C781.4,776.1 779.5,773.4 779.1,769.6C778.7,765.8 777.8,761.0 778.3,756.7C778.8,752.4 780.0,747.5 782.3,743.7C784.6,739.9 787.1,737.2 792.0,734.0C796.9,730.8 806.9,727.6 811.4,724.4C815.9,721.2 818.6,717.9 819.0,714.7C819.4,711.5 815.6,708.2 813.8,705.0C812.0,701.8 808.9,698.5 808.1,695.3C807.3,692.1 808.5,688.8 809.0,685.6C809.5,682.4 811.5,679.1 811.4,675.9C811.3,672.7 810.2,669.4 808.2,666.2C806.2,663.0 802.8,659.8 799.3,656.6C795.8,653.4 790.6,649.6 787.2,646.9C783.8,644.2 781.2,642.2 779.1,640.4C777.0,638.6 775.9,637.9 774.6,636.1C773.3,634.3 772.1,631.9 771.1,629.8C770.1,627.7 769.0,624.5 768.6,623.4Z" fill="#FF0000" stroke="#1a1a1a" stroke-width="1.5" stroke-linejoin="round"/>
<line x1="768.6" y1="561.2" x2="768.6" y2="801" stroke="#333333" stroke-width="1.4"/>
<rect x="767.40" y="600" width="2.4" height="23.0" rx="1.20" fill="#333333"/>
<circle cx="768.6" cy="582.2" r="2.9" fill="#333333"/>
<circle cx="768.6" cy="607.6" r="2.9" fill="#333333"/>
<circle cx="768.6" cy="793.5" r="2.9" fill="#333333"/>
<circle cx="768.6" cy="796.5" r="2.9" fill="#333333"/>
<circle cx="768.6" cy="799.5" r="2.9" fill="#333333"/>
<rect x="761.2" y="676.7" width="15.8" height="46.6" fill="#FFFFFF" stroke="#1a1a1a" stroke-width="1.3"/>
<line x1="761.2" y1="703.3" x2="777.0" y2="703.3" stroke="#1a1a1a" stroke-width="2.4"/>
<rect x="498.3" y="548.8" width="371.6" height="285.7" fill="none" stroke="#333333" stroke-width="1.5"/>
<rect x="498.3" y="508.3" width="371.6" height="40.5" fill="#D9D9D9" stroke="#333333" stroke-width="1.5"/>
<text x="682.7" y="539.0" text-anchor="middle" font-family="Liberation Sans, Arial, sans-serif" font-weight="bold" font-size="25.5" textLength="340.5" lengthAdjust="spacingAndGlyphs" fill="#0d0d0d">Sum of Hausdorff Distance</text>
<line x1="492.5" y1="815.7" x2="498.3" y2="815.7" stroke="#333333" stroke-width="1.3"/>
<text x="488.5" y="824.9" text-anchor="end" font-family="Liberation Sans, Arial, sans-serif" font-weight="bold" font-size="23.5" fill="#000">2</text>
<line x1="492.5" y1="747.2" x2="498.3" y2="747.2" stroke="#333333" stroke-width="1.3"/>
<text x="488.5" y="756.4" text-anchor="end" font-family="Liberation Sans, Arial, sans-serif" font-weight="bold" font-size="23.5" fill="#000">3</text>
<line x1="492.5" y1="678.7" x2="498.3" y2="678.7" stroke="#333333" stroke-width="1.3"/>
<text x="488.5" y="687.9" text-anchor="end" font-family="Liberation Sans, Arial, sans-serif" font-weight="bold" font-size="23.5" fill="#000">4</text>
<line x1="492.5" y1="610.2" x2="498.3" y2="610.2" stroke="#333333" stroke-width="1.3"/>
<text x="488.5" y="619.4" text-anchor="end" font-family="Liberation Sans, Arial, sans-serif" font-weight="bold" font-size="23.5" fill="#000">5</text>
<line x1="600.0" y1="834.5" x2="600.0" y2="840.3" stroke="#333333" stroke-width="1.3"/>
<line x1="768.6" y1="834.5" x2="768.6" y2="840.3" stroke="#333333" stroke-width="1.3"/>
<text x="564.6" y="584.0" font-family="Liberation Sans, Arial, sans-serif" font-size="19.3" textLength="172.0" lengthAdjust="spacingAndGlyphs" fill="#111111" stroke="#111111" stroke-width="0.35">Wilcoxon, p =1.2e-13</text>
</g>
<g>
<line x1="982.7" y1="447.4" x2="1350.3" y2="447.4" stroke="#F0F0F0" stroke-width="1"/>
<line x1="982.7" y1="377.3" x2="1350.3" y2="377.3" stroke="#F0F0F0" stroke-width="1"/>
<line x1="982.7" y1="307.2" x2="1350.3" y2="307.2" stroke="#F0F0F0" stroke-width="1"/>
<line x1="982.7" y1="237.1" x2="1350.3" y2="237.1" stroke="#F0F0F0" stroke-width="1"/>
<line x1="982.7" y1="482.5" x2="1350.3" y2="482.5" stroke="#E5E5E5" stroke-width="1.4"/>
<line x1="982.7" y1="412.4" x2="1350.3" y2="412.4" stroke="#E5E5E5" stroke-width="1.4"/>
<line x1="982.7" y1="342.3" x2="1350.3" y2="342.3" stroke="#E5E5E5" stroke-width="1.4"/>
<line x1="982.7" y1="272.2" x2="1350.3" y2="272.2" stroke="#E5E5E5" stroke-width="1.4"/>
<line x1="1083.4" y1="216.0" x2="1083.4" y2="500.5" stroke="#E5E5E5" stroke-width="1.4"/>
<line x1="1249.8" y1="216.0" x2="1249.8" y2="500.5" stroke="#E5E5E5" stroke-width="1.4"/>
<line x1="1083.4" y1="302.5" x2="1083.4" y2="317" stroke="#1a1a1a" stroke-width="1.5"/>
<line x1="1083.4" y1="471" x2="1083.4" y2="480.6" stroke="#1a1a1a" stroke-width="1.5"/>
<path d="M1083.4,315.0C1082.6,316.6 1080.4,321.2 1078.4,324.9C1076.5,328.6 1074.6,333.2 1071.7,337.4C1068.8,341.5 1066.1,345.6 1061.0,349.8C1055.9,354.0 1047.7,358.2 1041.0,362.3C1034.3,366.4 1026.1,370.3 1020.6,374.7C1015.1,379.1 1008.7,384.3 1008.2,388.5C1007.7,392.7 1014.3,396.2 1017.4,399.7C1020.5,403.2 1024.9,406.3 1026.6,409.6C1028.4,412.9 1028.1,416.3 1027.9,419.6C1027.7,422.9 1024.6,426.3 1025.4,429.6C1026.2,432.9 1028.3,436.2 1032.8,439.5C1037.3,442.8 1046.2,446.2 1052.4,449.5C1058.6,452.8 1065.0,456.2 1069.7,459.5C1074.5,462.8 1078.6,467.1 1080.9,469.4C1083.2,471.6 1083.0,472.4 1083.4,473.0C1083.8,472.4 1083.6,471.6 1085.9,469.4C1088.2,467.1 1092.4,462.8 1097.1,459.5C1101.9,456.2 1108.2,452.8 1114.4,449.5C1120.6,446.2 1129.5,442.8 1134.0,439.5C1138.5,436.2 1140.6,432.9 1141.4,429.6C1142.2,426.3 1139.1,422.9 1138.9,419.6C1138.7,416.3 1138.5,412.9 1140.2,409.6C1142.0,406.3 1146.3,403.2 1149.4,399.7C1152.5,396.2 1159.1,392.7 1158.6,388.5C1158.1,384.3 1151.7,379.1 1146.2,374.7C1140.7,370.3 1132.5,366.4 1125.8,362.3C1119.1,358.2 1110.9,354.0 1105.8,349.8C1100.7,345.6 1098.0,341.5 1095.1,337.4C1092.2,333.2 1090.4,328.6 1088.4,324.9C1086.5,321.2 1084.2,316.6 1083.4,315.0Z" fill="#0000FF" stroke="#1a1a1a" stroke-width="1.5" stroke-linejoin="round"/>
<line x1="1083.4" y1="329.9" x2="1083.4" y2="450.7" stroke="#333333" stroke-width="1.4"/>
<rect x="1074.5" y="379.2" width="17.5" height="47.1" fill="#FFFFFF" stroke="#1a1a1a" stroke-width="1.3"/>
<line x1="1074.5" y1="398.4" x2="1092.0" y2="398.4" stroke="#1a1a1a" stroke-width="2.4"/>
<line x1="1249.8" y1="229.3" x2="1249.8" y2="279" stroke="#1a1a1a" stroke-width="1.5"/>
<line x1="1249.8" y1="471.4" x2="1249.8" y2="487.7" stroke="#1a1a1a" stroke-width="1.5"/>
<path d="M1249.8,277.0C1249.3,277.4 1247.6,277.0 1247.1,279.5C1246.6,282.0 1247.1,287.9 1247.0,292.0C1246.9,296.1 1246.9,300.7 1246.4,303.8C1245.9,306.9 1245.1,308.0 1243.9,310.6C1242.7,313.2 1241.8,316.5 1239.3,319.6C1236.8,322.7 1232.2,325.9 1228.6,329.1C1225.0,332.3 1221.5,335.5 1217.5,338.7C1213.5,341.9 1208.8,345.0 1204.8,348.2C1200.8,351.4 1196.8,354.5 1193.7,357.7C1190.6,360.9 1188.0,364.3 1186.4,367.2C1184.8,370.1 1183.9,372.5 1184.1,375.1C1184.3,377.7 1185.5,380.1 1187.4,383.0C1189.3,385.9 1192.4,389.3 1195.3,392.5C1198.2,395.7 1202.3,398.9 1204.8,402.1C1207.3,405.3 1209.5,408.4 1210.5,411.6C1211.5,414.8 1210.9,417.9 1210.5,421.1C1210.1,424.3 1207.9,427.4 1208.0,430.6C1208.1,433.8 1209.0,436.9 1211.1,440.1C1213.2,443.3 1216.9,446.4 1220.6,449.6C1224.3,452.8 1229.1,455.9 1233.3,459.1C1237.5,462.3 1243.2,466.2 1246.0,468.6C1248.8,471.0 1249.2,472.6 1249.8,473.4C1250.4,472.6 1250.8,471.0 1253.6,468.6C1256.3,466.2 1262.1,462.3 1266.3,459.1C1270.5,455.9 1275.3,452.8 1279.0,449.6C1282.7,446.4 1286.4,443.3 1288.5,440.1C1290.6,436.9 1291.5,433.8 1291.6,430.6C1291.7,427.4 1289.5,424.3 1289.1,421.1C1288.7,417.9 1288.1,414.8 1289.1,411.6C1290.0,408.4 1292.3,405.3 1294.8,402.1C1297.3,398.9 1301.4,395.7 1304.3,392.5C1307.2,389.3 1310.3,385.9 1312.2,383.0C1314.1,380.1 1315.3,377.7 1315.5,375.1C1315.7,372.5 1314.8,370.1 1313.2,367.2C1311.6,364.3 1309.0,360.9 1305.9,357.7C1302.8,354.5 1298.8,351.4 1294.8,348.2C1290.8,345.0 1286.1,341.9 1282.1,338.7C1278.1,335.5 1274.6,332.3 1271.0,329.1C1267.4,325.9 1262.8,322.7 1260.3,319.6C1257.8,316.5 1256.9,313.2 1255.7,310.6C1254.5,308.0 1253.7,306.9 1253.2,303.8C1252.7,300.7 1252.7,296.1 1252.6,292.0C1252.5,287.9 1253.0,282.0 1252.5,279.5C1252.0,277.0 1250.2,277.4 1249.8,277.0Z" fill="#FF0000" stroke="#1a1a1a" stroke-width="1.5" stroke-linejoin="round"/>
<line x1="1249.8" y1="229.3" x2="1249.8" y2="462.3" stroke="#333333" stroke-width="1.4"/>
<rect x="1247.00" y="252.3" width="5.6" height="26.7" rx="2.80" fill="#333333"/>
<rect x="1242.6" y="363.1" width="15.2" height="57.0" fill="#FFFFFF" stroke="#1a1a1a" stroke-width="1.3"/>
<line x1="1242.6" y1="384.6" x2="1257.8" y2="384.6" stroke="#1a1a1a" stroke-width="2.4"/>
<rect x="982.7" y="216.0" width="367.6" height="284.5" fill="none" stroke="#333333" stroke-width="1.5"/>
<rect x="982.7" y="178.0" width="367.6" height="38.0" fill="#D9D9D9" stroke="#333333" stroke-width="1.5"/>
<text x="1165.5" y="208.2" text-anchor="middle" font-family="Liberation Sans, Arial, sans-serif" font-weight="bold" font-size="25.5" textLength="242.5" lengthAdjust="spacingAndGlyphs" fill="#0d0d0d">Kurtosis of Velocity</text>
<line x1="976.9" y1="482.5" x2="982.7" y2="482.5" stroke="#333333" stroke-width="1.3"/>
<text x="972.5" y="491.7" text-anchor="end" font-family="Liberation Sans, Arial, sans-serif" font-weight="bold" font-size="23.5" fill="#000">-1</text>
<line x1="976.9" y1="412.4" x2="982.7" y2="412.4" stroke="#333333" stroke-width="1.3"/>
<text x="972.5" y="421.6" text-anchor="end" font-family="Liberation Sans, Arial, sans-serif" font-weight="bold" font-size="23.5" fill="#000">0</text>
<line x1="976.9" y1="342.3" x2="982.7" y2="342.3" stroke="#333333" stroke-width="1.3"/>
<text x="972.5" y="351.5" text-anchor="end" font-family="Liberation Sans, Arial, sans-serif" font-weight="bold" font-size="23.5" fill="#000">1</text>
<line x1="976.9" y1="272.2" x2="982.7" y2="272.2" stroke="#333333" stroke-width="1.3"/>
<text x="972.5" y="281.4" text-anchor="end" font-family="Liberation Sans, Arial, sans-serif" font-weight="bold" font-size="23.5" fill="#000">2</text>
<text x="1047.5" y="254.2" font-family="Liberation Sans, Arial, sans-serif" font-size="19.3" textLength="174.5" lengthAdjust="spacingAndGlyphs" fill="#111111" stroke="#111111" stroke-width="0.35">Wilcoxon, p =0.00014</text>
</g>
<g>
<line x1="1389.2" y1="443.0" x2="1757.1" y2="443.0" stroke="#F0F0F0" stroke-width="1"/>
<line x1="1389.2" y1="379.2" x2="1757.1" y2="379.2" stroke="#F0F0F0" stroke-width="1"/>
<line x1="1389.2" y1="315.4" x2="1757.1" y2="315.4" stroke="#F0F0F0" stroke-width="1"/>
<line x1="1389.2" y1="251.6" x2="1757.1" y2="251.6" stroke="#F0F0F0" stroke-width="1"/>
<line x1="1389.2" y1="474.9" x2="1757.1" y2="474.9" stroke="#E5E5E5" stroke-width="1.4"/>
<line x1="1389.2" y1="411.1" x2="1757.1" y2="411.1" stroke="#E5E5E5" stroke-width="1.4"/>
<line x1="1389.2" y1="347.3" x2="1757.1" y2="347.3" stroke="#E5E5E5" stroke-width="1.4"/>
<line x1="1389.2" y1="283.5" x2="1757.1" y2="283.5" stroke="#E5E5E5" stroke-width="1.4"/>
<line x1="1389.2" y1="219.7" x2="1757.1" y2="219.7" stroke="#E5E5E5" stroke-width="1.4"/>
<line x1="1489.6" y1="216.0" x2="1489.6" y2="500.1" stroke="#E5E5E5" stroke-width="1.4"/>
<line x1="1656.8" y1="216.0" x2="1656.8" y2="500.1" stroke="#E5E5E5" stroke-width="1.4"/>
<line x1="1489.6" y1="264.4" x2="1489.6" y2="281.3" stroke="#1a1a1a" stroke-width="1.5"/>
<line x1="1489.6" y1="478.6" x2="1489.6" y2="486.9" stroke="#1a1a1a" stroke-width="1.5"/>
<path d="M1489.6,279.3C1489.2,281.1 1487.8,286.6 1487.3,290.0C1486.8,293.4 1486.7,297.0 1486.4,300.0C1486.1,303.0 1486.0,305.7 1485.6,308.0C1485.2,310.3 1484.9,312.1 1484.2,313.9C1483.4,315.6 1482.4,316.9 1481.1,318.5C1479.8,320.1 1478.8,321.3 1476.6,323.4C1474.4,325.5 1470.5,328.6 1468.2,331.3C1465.9,334.0 1464.5,336.7 1462.6,339.3C1460.7,341.9 1458.4,344.6 1456.7,347.2C1455.0,349.8 1453.7,352.5 1452.3,355.1C1450.9,357.7 1449.4,360.4 1448.4,363.0C1447.3,365.6 1446.6,368.4 1446.0,371.0C1445.4,373.6 1444.9,376.2 1444.6,378.9C1444.3,381.6 1444.3,383.7 1444.3,387.2C1444.3,390.7 1445.7,396.0 1444.6,399.7C1443.5,403.4 1440.9,406.3 1437.6,409.6C1434.3,412.9 1428.5,415.7 1424.6,419.6C1420.7,423.6 1414.3,429.2 1414.1,433.3C1413.9,437.4 1417.7,441.0 1423.6,444.5C1429.5,448.0 1441.5,451.2 1449.6,454.5C1457.7,457.8 1466.0,461.1 1472.2,464.4C1478.4,467.7 1483.7,471.7 1486.6,474.4C1489.5,477.1 1489.1,479.6 1489.6,480.6C1490.1,479.6 1489.7,477.1 1492.6,474.4C1495.5,471.7 1500.8,467.7 1507.0,464.4C1513.2,461.1 1521.5,457.8 1529.6,454.5C1537.7,451.2 1549.7,448.0 1555.6,444.5C1561.5,441.0 1565.3,437.4 1565.1,433.3C1564.9,429.2 1558.5,423.6 1554.6,419.6C1550.7,415.7 1544.9,412.9 1541.6,409.6C1538.3,406.3 1535.7,403.4 1534.6,399.7C1533.5,396.0 1534.9,390.7 1534.9,387.2C1534.9,383.7 1534.9,381.6 1534.6,378.9C1534.3,376.2 1533.8,373.6 1533.2,371.0C1532.6,368.4 1531.8,365.6 1530.8,363.0C1529.8,360.4 1528.3,357.7 1526.9,355.1C1525.5,352.5 1524.2,349.8 1522.5,347.2C1520.8,344.6 1518.5,341.9 1516.6,339.3C1514.7,336.7 1513.3,334.0 1511.0,331.3C1508.7,328.6 1504.8,325.5 1502.6,323.4C1500.4,321.3 1499.4,320.1 1498.1,318.5C1496.8,316.9 1495.8,315.6 1495.0,313.9C1494.2,312.1 1494.0,310.3 1493.6,308.0C1493.2,305.7 1493.1,303.0 1492.8,300.0C1492.5,297.0 1492.4,293.4 1491.9,290.0C1491.4,286.6 1490.0,281.1 1489.6,279.3Z" fill="#0000FF" stroke="#1a1a1a" stroke-width="1.5" stroke-linejoin="round"/>
<line x1="1489.6" y1="264.4" x2="1489.6" y2="450.7" stroke="#333333" stroke-width="1.4"/>
<rect x="1481.3" y="371.8" width="17.2" height="62.0" fill="#FFFFFF" stroke="#1a1a1a" stroke-width="1.3"/>
<line x1="1481.3" y1="406.6" x2="1498.5" y2="406.6" stroke="#1a1a1a" stroke-width="2.4"/>
<line x1="1656.8" y1="229.3" x2="1656.8" y2="256.3" stroke="#1a1a1a" stroke-width="1.5"/>
<line x1="1656.8" y1="469.8" x2="1656.8" y2="484.5" stroke="#1a1a1a" stroke-width="1.5"/>
<path d="M1656.8,254.3C1656.2,255.9 1654.4,259.6 1653.5,263.8C1652.6,268.0 1652.2,274.3 1651.6,279.6C1651.0,284.9 1650.5,291.5 1649.9,295.5C1649.3,299.5 1649.0,300.8 1648.2,303.4C1647.4,306.0 1646.8,308.6 1644.8,311.3C1642.8,314.0 1638.9,316.7 1636.2,319.3C1633.5,321.9 1631.3,324.6 1628.8,327.2C1626.3,329.8 1623.7,332.5 1621.1,335.1C1618.5,337.7 1615.7,340.4 1613.2,343.0C1610.7,345.6 1608.2,348.4 1606.1,351.0C1603.9,353.6 1601.8,356.3 1600.3,358.9C1598.8,361.5 1597.6,364.4 1597.3,366.8C1597.0,369.2 1597.2,370.8 1598.3,373.5C1599.3,376.2 1601.6,379.8 1603.6,383.0C1605.6,386.2 1608.4,389.3 1610.5,392.5C1612.6,395.7 1615.4,398.9 1616.2,402.1C1617.0,405.3 1616.5,408.4 1615.3,411.6C1614.1,414.8 1610.8,417.9 1609.0,421.1C1607.2,424.3 1605.3,428.0 1604.2,430.6C1603.1,433.2 1602.3,434.8 1602.6,436.9C1602.9,439.0 1602.4,440.6 1605.8,443.3C1609.2,446.0 1616.6,449.6 1623.2,452.8C1629.8,456.0 1640.2,459.7 1645.4,462.3C1650.6,464.9 1652.4,467.0 1654.3,468.6C1656.2,470.2 1656.4,471.3 1656.8,471.8C1657.2,471.3 1657.4,470.2 1659.3,468.6C1661.2,467.0 1663.0,464.9 1668.2,462.3C1673.4,459.7 1683.8,456.0 1690.4,452.8C1697.0,449.6 1704.4,446.0 1707.8,443.3C1711.2,440.6 1710.7,439.0 1711.0,436.9C1711.3,434.8 1710.5,433.2 1709.4,430.6C1708.3,428.0 1706.4,424.3 1704.6,421.1C1702.8,417.9 1699.5,414.8 1698.3,411.6C1697.1,408.4 1696.6,405.3 1697.4,402.1C1698.2,398.9 1701.0,395.7 1703.1,392.5C1705.2,389.3 1708.0,386.2 1710.0,383.0C1712.0,379.8 1714.2,376.2 1715.3,373.5C1716.3,370.8 1716.6,369.2 1716.3,366.8C1716.0,364.4 1714.8,361.5 1713.3,358.9C1711.8,356.3 1709.7,353.6 1707.5,351.0C1705.3,348.4 1702.9,345.6 1700.4,343.0C1697.9,340.4 1695.1,337.7 1692.5,335.1C1689.9,332.5 1687.3,329.8 1684.8,327.2C1682.3,324.6 1680.1,321.9 1677.4,319.3C1674.7,316.7 1670.8,314.0 1668.8,311.3C1666.8,308.6 1666.2,306.0 1665.4,303.4C1664.5,300.8 1664.3,299.5 1663.7,295.5C1663.1,291.5 1662.6,284.9 1662.0,279.6C1661.4,274.3 1661.0,268.0 1660.1,263.8C1659.2,259.6 1657.3,255.9 1656.8,254.3Z" fill="#FF0000" stroke="#1a1a1a" stroke-width="1.5" stroke-linejoin="round"/>
<line x1="1656.8" y1="229.3" x2="1656.8" y2="456" stroke="#333333" stroke-width="1.4"/>
<rect x="1649.2" y="354.5" width="15.8" height="70.4" fill="#FFFFFF" stroke="#1a1a1a" stroke-width="1.3"/>
<line x1="1649.2" y1="380.5" x2="1665.0" y2="380.5" stroke="#1a1a1a" stroke-width="2.4"/>
<rect x="1389.2" y="216.0" width="367.9" height="284.1" fill="none" stroke="#333333" stroke-width="1.5"/>
<rect x="1389.2" y="178.0" width="367.9" height="38.0" fill="#D9D9D9" stroke="#333333" stroke-width="1.5"/>
<text x="1571.8" y="208.2" text-anchor="middle" font-family="Liberation Sans, Arial, sans-serif" font-weight="bold" font-size="25.5" textLength="326.5" lengthAdjust="spacingAndGlyphs" fill="#0d0d0d">Kurtosis of Radial Velocity</text>
<line x1="1383.4" y1="474.9" x2="1389.2" y2="474.9" stroke="#333333" stroke-width="1.3"/>
<text x="1379.5" y="484.1" text-anchor="end" font-family="Liberation Sans, Arial, sans-serif" font-weight="bold" font-size="23.5" fill="#000">-1</text>
<line x1="1383.4" y1="411.1" x2="1389.2" y2="411.1" stroke="#333333" stroke-width="1.3"/>
<text x="1379.5" y="420.3" text-anchor="end" font-family="Liberation Sans, Arial, sans-serif" font-weight="bold" font-size="23.5" fill="#000">0</text>
<line x1="1383.4" y1="347.3" x2="1389.2" y2="347.3" stroke="#333333" stroke-width="1.3"/>
<text x="1379.5" y="356.5" text-anchor="end" font-family="Liberation Sans, Arial, sans-serif" font-weight="bold" font-size="23.5" fill="#000">1</text>
<line x1="1383.4" y1="283.5" x2="1389.2" y2="283.5" stroke="#333333" stroke-width="1.3"/>
<text x="1379.5" y="292.7" text-anchor="end" font-family="Liberation Sans, Arial, sans-serif" font-weight="bold" font-size="23.5" fill="#000">2</text>
<line x1="1383.4" y1="219.7" x2="1389.2" y2="219.7" stroke="#333333" stroke-width="1.3"/>
<text x="1379.5" y="228.9" text-anchor="end" font-family="Liberation Sans, Arial, sans-serif" font-weight="bold" font-size="23.5" fill="#000">3</text>
<text x="1454.6" y="257.9" font-family="Liberation Sans, Arial, sans-serif" font-size="19.3" textLength="171.0" lengthAdjust="spacingAndGlyphs" fill="#111111" stroke="#111111" stroke-width="0.35">Wilcoxon, p =2.3e-06</text>
</g>
<g>
<line x1="982.8" y1="778.2" x2="1350.5" y2="778.2" stroke="#F0F0F0" stroke-width="1"/>
<line x1="982.8" y1="703.2" x2="1350.5" y2="703.2" stroke="#F0F0F0" stroke-width="1"/>
<line x1="982.8" y1="628.2" x2="1350.5" y2="628.2" stroke="#F0F0F0" stroke-width="1"/>
<line x1="982.8" y1="553.2" x2="1350.5" y2="553.2" stroke="#F0F0F0" stroke-width="1"/>
<line x1="982.8" y1="815.7" x2="1350.5" y2="815.7" stroke="#E5E5E5" stroke-width="1.4"/>
<line x1="982.8" y1="740.7" x2="1350.5" y2="740.7" stroke="#E5E5E5" stroke-width="1.4"/>
<line x1="982.8" y1="665.7" x2="1350.5" y2="665.7" stroke="#E5E5E5" stroke-width="1.4"/>
<line x1="982.8" y1="590.7" x2="1350.5" y2="590.7" stroke="#E5E5E5" stroke-width="1.4"/>
<line x1="1083.4" y1="549.0" x2="1083.4" y2="832.8" stroke="#E5E5E5" stroke-width="1.4"/>
<line x1="1249.8" y1="549.0" x2="1249.8" y2="832.8" stroke="#E5E5E5" stroke-width="1.4"/>
<line x1="1083.4" y1="594.2" x2="1083.4" y2="608.9" stroke="#1a1a1a" stroke-width="1.5"/>
<line x1="1083.4" y1="797.4" x2="1083.4" y2="813.6" stroke="#1a1a1a" stroke-width="1.5"/>
<path d="M1083.4,606.9C1082.8,608.1 1081.8,611.4 1080.0,614.0C1078.2,616.6 1075.6,619.7 1072.4,622.5C1069.2,625.3 1064.8,628.2 1061.0,631.0C1057.2,633.8 1053.5,636.7 1049.7,639.5C1045.9,642.3 1042.2,645.2 1038.4,648.0C1034.6,650.8 1030.8,653.6 1027.0,656.4C1023.2,659.2 1018.5,662.1 1015.7,664.9C1012.9,667.7 1010.5,670.6 1010.0,673.4C1009.5,676.2 1011.5,679.1 1012.9,681.9C1014.3,684.7 1016.6,687.6 1018.5,690.4C1020.4,693.2 1022.1,696.1 1024.2,698.9C1026.3,701.7 1028.9,704.6 1031.3,707.4C1033.7,710.2 1035.3,713.1 1038.4,715.9C1041.5,718.7 1046.4,721.6 1049.7,724.4C1053.0,727.2 1056.1,730.1 1058.2,732.9C1060.3,735.7 1061.5,738.6 1062.4,741.4C1063.4,744.2 1063.8,747.1 1063.9,749.9C1064.0,752.7 1062.7,755.6 1063.0,758.4C1063.3,761.2 1064.5,764.1 1065.8,766.9C1067.1,769.7 1069.2,772.6 1070.9,775.4C1072.6,778.2 1074.5,781.0 1076.0,783.8C1077.5,786.6 1078.8,789.7 1080.0,792.3C1081.2,794.9 1082.8,798.2 1083.4,799.4C1084.0,798.2 1085.6,794.9 1086.8,792.3C1088.0,789.7 1089.3,786.6 1090.8,783.8C1092.3,781.0 1094.2,778.2 1095.9,775.4C1097.6,772.6 1099.7,769.7 1101.0,766.9C1102.3,764.1 1103.5,761.2 1103.8,758.4C1104.1,755.6 1102.8,752.7 1102.9,749.9C1103.0,747.1 1103.5,744.2 1104.4,741.4C1105.4,738.6 1106.5,735.7 1108.6,732.9C1110.7,730.1 1113.8,727.2 1117.1,724.4C1120.4,721.6 1125.3,718.7 1128.4,715.9C1131.5,713.1 1133.1,710.2 1135.5,707.4C1137.9,704.6 1140.5,701.7 1142.6,698.9C1144.7,696.1 1146.4,693.2 1148.3,690.4C1150.2,687.6 1152.5,684.7 1153.9,681.9C1155.3,679.1 1157.3,676.2 1156.8,673.4C1156.3,670.6 1153.9,667.7 1151.1,664.9C1148.3,662.1 1143.6,659.2 1139.8,656.4C1136.0,653.6 1132.2,650.8 1128.4,648.0C1124.6,645.2 1120.9,642.3 1117.1,639.5C1113.3,636.7 1109.6,633.8 1105.8,631.0C1102.0,628.2 1097.6,625.3 1094.4,622.5C1091.2,619.7 1088.6,616.6 1086.8,614.0C1085.0,611.4 1084.0,608.1 1083.4,606.9Z" fill="#0000FF" stroke="#1a1a1a" stroke-width="1.5" stroke-linejoin="round"/>
<line x1="1083.4" y1="628" x2="1083.4" y2="775.4" stroke="#333333" stroke-width="1.4"/>
<rect x="1074.7" y="667.8" width="17.2" height="45.3" fill="#FFFFFF" stroke="#1a1a1a" stroke-width="1.3"/>
<line x1="1074.7" y1="685.3" x2="1091.9" y2="685.3" stroke="#1a1a1a" stroke-width="2.4"/>
<line x1="1249.8" y1="561.3" x2="1249.8" y2="592.3" stroke="#1a1a1a" stroke-width="1.5"/>
<line x1="1249.8" y1="803" x2="1249.8" y2="819.7" stroke="#1a1a1a" stroke-width="1.5"/>
<path d="M1249.8,590.3C1249.3,591.0 1247.9,593.2 1247.0,594.6C1246.1,596.0 1245.5,596.1 1244.2,598.4C1242.9,600.6 1242.7,604.9 1239.3,608.1C1235.9,611.3 1230.0,614.6 1224.0,617.8C1218.0,621.0 1210.0,624.2 1203.0,627.4C1196.0,630.6 1186.8,634.1 1182.0,637.1C1177.2,640.1 1174.0,642.5 1174.3,645.2C1174.6,647.9 1180.2,650.6 1183.8,653.3C1187.4,656.0 1193.5,658.3 1195.8,661.3C1198.1,664.2 1197.1,668.0 1197.4,671.0C1197.7,674.0 1195.7,676.1 1197.4,679.1C1199.1,682.1 1204.3,685.6 1207.8,688.8C1211.3,692.0 1215.1,695.2 1218.3,698.4C1221.5,701.6 1224.4,704.3 1227.2,708.1C1230.0,711.9 1233.5,716.7 1235.3,721.0C1237.1,725.3 1237.8,729.4 1238.3,733.9C1238.8,738.4 1238.7,743.6 1238.3,748.0C1237.9,752.4 1236.6,756.7 1235.8,760.0C1235.0,763.3 1234.1,765.5 1233.3,768.0C1232.5,770.5 1231.3,772.7 1231.2,775.0C1231.1,777.3 1232.0,779.8 1232.8,782.0C1233.6,784.2 1235.2,786.2 1236.3,788.0C1237.4,789.8 1238.0,791.4 1239.3,793.0C1240.5,794.6 1242.5,796.2 1243.8,797.5C1245.0,798.8 1245.8,799.8 1246.8,801.0C1247.8,802.2 1249.3,804.3 1249.8,805.0C1250.3,804.3 1251.8,802.2 1252.8,801.0C1253.8,799.8 1254.5,798.8 1255.8,797.5C1257.0,796.2 1259.0,794.6 1260.3,793.0C1261.5,791.4 1262.2,789.8 1263.3,788.0C1264.4,786.2 1266.0,784.2 1266.8,782.0C1267.6,779.8 1268.5,777.3 1268.4,775.0C1268.3,772.7 1267.1,770.5 1266.3,768.0C1265.5,765.5 1264.6,763.3 1263.8,760.0C1263.0,756.7 1261.7,752.4 1261.3,748.0C1260.9,743.6 1260.8,738.4 1261.3,733.9C1261.8,729.4 1262.5,725.3 1264.3,721.0C1266.1,716.7 1269.6,711.9 1272.4,708.1C1275.2,704.3 1278.1,701.6 1281.3,698.4C1284.5,695.2 1288.3,692.0 1291.8,688.8C1295.3,685.6 1300.5,682.1 1302.2,679.1C1303.9,676.1 1301.9,674.0 1302.2,671.0C1302.5,668.0 1301.5,664.2 1303.8,661.3C1306.1,658.3 1312.2,656.0 1315.8,653.3C1319.4,650.6 1325.0,647.9 1325.3,645.2C1325.6,642.5 1322.4,640.1 1317.6,637.1C1312.8,634.1 1303.6,630.6 1296.6,627.4C1289.6,624.2 1281.6,621.0 1275.6,617.8C1269.5,614.6 1263.7,611.3 1260.3,608.1C1256.9,604.9 1256.7,600.6 1255.4,598.4C1254.1,596.1 1253.5,596.0 1252.6,594.6C1251.7,593.2 1250.3,591.0 1249.8,590.3Z" fill="#FF0000" stroke="#1a1a1a" stroke-width="1.5" stroke-linejoin="round"/>
<line x1="1249.8" y1="561.3" x2="1249.8" y2="796" stroke="#333333" stroke-width="1.4"/>
<rect x="1247.30" y="779" width="5.0" height="18.0" rx="2.50" fill="#333333"/>
<rect x="1242.6" y="644.4" width="15.8" height="55.5" fill="#FFFFFF" stroke="#1a1a1a" stroke-width="1.3"/>
<line x1="1242.6" y1="666.6" x2="1258.4" y2="666.6" stroke="#1a1a1a" stroke-width="2.4"/>
<rect x="982.8" y="549.0" width="367.7" height="283.8" fill="none" stroke="#333333" stroke-width="1.5"/>
<rect x="982.8" y="509.7" width="367.7" height="39.3" fill="#D9D9D9" stroke="#333333" stroke-width="1.5"/>
<text x="1166.2" y="540.2" text-anchor="middle" font-family="Liberation Sans, Arial, sans-serif" font-weight="bold" font-size="25.5" textLength="347.7" lengthAdjust="spacingAndGlyphs" fill="#0d0d0d">Kurtosis of Angular Velocity</text>
<line x1="977.0" y1="815.7" x2="982.8" y2="815.7" stroke="#333333" stroke-width="1.3"/>
<text x="972.5" y="824.9" text-anchor="end" font-family="Liberation Sans, Arial, sans-serif" font-weight="bold" font-size="23.5" fill="#000">-1</text>
<line x1="977.0" y1="740.7" x2="982.8" y2="740.7" stroke="#333333" stroke-width="1.3"/>
<text x="972.5" y="749.9" text-anchor="end" font-family="Liberation Sans, Arial, sans-serif" font-weight="bold" font-size="23.5" fill="#000">0</text>
<line x1="977.0" y1="665.7" x2="982.8" y2="665.7" stroke="#333333" stroke-width="1.3"/>
<text x="972.5" y="674.9" text-anchor="end" font-family="Liberation Sans, Arial, sans-serif" font-weight="bold" font-size="23.5" fill="#000">1</text>
<line x1="977.0" y1="590.7" x2="982.8" y2="590.7" stroke="#333333" stroke-width="1.3"/>
<text x="972.5" y="599.9" text-anchor="end" font-family="Liberation Sans, Arial, sans-serif" font-weight="bold" font-size="23.5" fill="#000">2</text>
<line x1="1083.4" y1="832.8" x2="1083.4" y2="838.6" stroke="#333333" stroke-width="1.3"/>
<line x1="1249.8" y1="832.8" x2="1249.8" y2="838.6" stroke="#333333" stroke-width="1.3"/>
<text x="1047.5" y="588.7" font-family="Liberation Sans, Arial, sans-serif" font-size="19.3" textLength="171.5" lengthAdjust="spacingAndGlyphs" fill="#111111" stroke="#111111" stroke-width="0.35">Wilcoxon, p =4.6e-08</text>
</g>
<g>
<line x1="1389.3" y1="768.7" x2="1757.1" y2="768.7" stroke="#F0F0F0" stroke-width="1"/>
<line x1="1389.3" y1="699.2" x2="1757.1" y2="699.2" stroke="#F0F0F0" stroke-width="1"/>
<line x1="1389.3" y1="629.8" x2="1757.1" y2="629.8" stroke="#F0F0F0" stroke-width="1"/>
<line x1="1389.3" y1="560.4" x2="1757.1" y2="560.4" stroke="#F0F0F0" stroke-width="1"/>
<line x1="1389.3" y1="803.4" x2="1757.1" y2="803.4" stroke="#E5E5E5" stroke-width="1.4"/>
<line x1="1389.3" y1="734.0" x2="1757.1" y2="734.0" stroke="#E5E5E5" stroke-width="1.4"/>
<line x1="1389.3" y1="664.5" x2="1757.1" y2="664.5" stroke="#E5E5E5" stroke-width="1.4"/>
<line x1="1389.3" y1="595.1" x2="1757.1" y2="595.1" stroke="#E5E5E5" stroke-width="1.4"/>
<line x1="1489.6" y1="549.0" x2="1489.6" y2="832.8" stroke="#E5E5E5" stroke-width="1.4"/>
<line x1="1657.0" y1="549.0" x2="1657.0" y2="832.8" stroke="#E5E5E5" stroke-width="1.4"/>
<line x1="1489.6" y1="614.0" x2="1489.6" y2="624.6" stroke="#1a1a1a" stroke-width="1.5"/>
<line x1="1489.6" y1="745" x2="1489.6" y2="755.1" stroke="#1a1a1a" stroke-width="1.5"/>
<path d="M1489.6,622.6C1489.2,623.7 1487.8,627.1 1487.0,629.4C1486.2,631.7 1485.3,633.9 1484.6,636.2C1483.9,638.5 1483.3,640.7 1482.6,643.0C1481.8,645.3 1481.1,647.5 1480.1,649.8C1479.1,652.1 1478.0,654.3 1476.6,656.6C1475.2,658.9 1473.4,661.5 1471.9,663.4C1470.4,665.3 1469.3,666.5 1467.6,668.0C1465.9,669.5 1464.8,670.8 1461.6,672.6C1458.4,674.5 1453.6,676.9 1448.6,679.1C1443.6,681.3 1436.3,683.7 1431.6,685.6C1426.9,687.5 1423.5,688.7 1420.6,690.3C1417.7,691.9 1414.5,693.2 1414.2,695.1C1413.9,697.0 1416.5,700.0 1418.6,701.9C1420.7,703.8 1424.3,704.9 1426.6,706.5C1428.9,708.1 1428.7,709.0 1432.6,711.4C1436.5,713.8 1444.2,717.9 1450.1,721.1C1456.0,724.3 1462.5,727.6 1467.8,730.8C1473.0,734.0 1478.0,737.8 1481.6,740.5C1485.2,743.2 1488.3,745.9 1489.6,747.0C1490.9,745.9 1494.0,743.2 1497.6,740.5C1501.2,737.8 1506.1,734.0 1511.4,730.8C1516.6,727.6 1523.2,724.3 1529.1,721.1C1535.0,717.9 1542.7,713.8 1546.6,711.4C1550.5,709.0 1550.3,708.1 1552.6,706.5C1554.9,704.9 1558.5,703.8 1560.6,701.9C1562.7,700.0 1565.3,697.0 1565.0,695.1C1564.7,693.2 1561.5,691.9 1558.6,690.3C1555.7,688.7 1552.3,687.5 1547.6,685.6C1542.9,683.7 1535.6,681.3 1530.6,679.1C1525.6,676.9 1520.8,674.5 1517.6,672.6C1514.4,670.8 1513.3,669.5 1511.6,668.0C1509.9,666.5 1508.8,665.3 1507.3,663.4C1505.8,661.5 1504.0,658.9 1502.6,656.6C1501.2,654.3 1500.1,652.1 1499.1,649.8C1498.1,647.5 1497.3,645.3 1496.6,643.0C1495.8,640.7 1495.3,638.5 1494.6,636.2C1493.9,633.9 1493.0,631.7 1492.2,629.4C1491.4,627.1 1490.0,623.7 1489.6,622.6Z" fill="#0000FF" stroke="#1a1a1a" stroke-width="1.5" stroke-linejoin="round"/>
<line x1="1489.6" y1="614" x2="1489.6" y2="735.9" stroke="#333333" stroke-width="1.4"/>
<rect x="1487.35" y="631.5" width="4.5" height="19.5" rx="2.25" fill="#333333"/>
<rect x="1481.2" y="685.4" width="17.2" height="24.4" fill="#FFFFFF" stroke="#1a1a1a" stroke-width="1.3"/>
<line x1="1481.2" y1="696.9" x2="1498.4" y2="696.9" stroke="#1a1a1a" stroke-width="2.4"/>
<line x1="1657.0" y1="562.0" x2="1657.0" y2="603.2" stroke="#1a1a1a" stroke-width="1.5"/>
<line x1="1657.0" y1="778.4" x2="1657.0" y2="822.0" stroke="#1a1a1a" stroke-width="1.5"/>
<path d="M1657.0,601.2C1656.6,602.3 1655.6,605.2 1654.5,607.6C1653.4,610.0 1652.3,612.9 1650.3,615.5C1648.3,618.1 1645.0,620.8 1642.4,623.4C1639.8,626.0 1637.1,628.6 1634.5,631.3C1631.9,633.9 1629.1,636.6 1626.6,639.3C1624.1,641.9 1621.2,644.6 1619.6,647.2C1617.9,649.8 1616.7,652.5 1616.7,655.1C1616.7,657.7 1618.6,660.4 1619.6,663.0C1620.6,665.6 1622.2,668.4 1622.8,671.0C1623.4,673.6 1623.9,676.3 1623.4,678.9C1622.9,681.5 1620.9,684.2 1619.6,686.8C1618.3,689.4 1615.8,692.1 1615.5,694.7C1615.2,697.4 1615.9,700.1 1617.7,702.7C1619.5,705.4 1623.3,708.0 1626.6,710.6C1629.9,713.2 1634.5,715.9 1637.7,718.5C1640.9,721.1 1643.8,723.9 1645.6,726.5C1647.4,729.1 1648.2,731.8 1648.8,734.4C1649.4,737.0 1649.5,739.7 1649.4,742.3C1649.3,744.9 1648.6,747.6 1648.1,750.2C1647.6,752.9 1646.1,755.6 1646.2,758.2C1646.3,760.9 1647.6,763.5 1648.8,766.1C1650.0,768.7 1652.1,771.6 1653.5,774.0C1654.9,776.4 1656.4,779.3 1657.0,780.4C1657.6,779.3 1659.1,776.4 1660.5,774.0C1661.9,771.6 1664.0,768.7 1665.2,766.1C1666.4,763.5 1667.7,760.9 1667.8,758.2C1667.9,755.6 1666.4,752.9 1665.9,750.2C1665.4,747.6 1664.7,744.9 1664.6,742.3C1664.5,739.7 1664.6,737.0 1665.2,734.4C1665.8,731.8 1666.6,729.1 1668.4,726.5C1670.2,723.9 1673.1,721.1 1676.3,718.5C1679.5,715.9 1684.1,713.2 1687.4,710.6C1690.7,708.0 1694.5,705.4 1696.3,702.7C1698.1,700.1 1698.8,697.4 1698.5,694.7C1698.2,692.1 1695.7,689.4 1694.4,686.8C1693.1,684.2 1691.1,681.5 1690.6,678.9C1690.1,676.3 1690.6,673.6 1691.2,671.0C1691.8,668.4 1693.4,665.6 1694.4,663.0C1695.4,660.4 1697.3,657.7 1697.3,655.1C1697.3,652.5 1696.1,649.8 1694.4,647.2C1692.8,644.6 1689.9,641.9 1687.4,639.3C1684.9,636.6 1682.1,633.9 1679.5,631.3C1676.9,628.6 1674.2,626.0 1671.6,623.4C1669.0,620.8 1665.7,618.1 1663.7,615.5C1661.7,612.9 1660.6,610.0 1659.5,607.6C1658.4,605.2 1657.4,602.3 1657.0,601.2Z" fill="#FF0000" stroke="#1a1a1a" stroke-width="1.5" stroke-linejoin="round"/>
<line x1="1657.0" y1="574.3" x2="1657.0" y2="804.1" stroke="#333333" stroke-width="1.4"/>
<rect x="1655.80" y="574" width="2.4" height="27.0" rx="1.20" fill="#333333"/>
<circle cx="1657.0" cy="796.2" r="2.9" fill="#333333"/>
<rect x="1649.2" y="655.1" width="15.8" height="48.2" fill="#FFFFFF" stroke="#1a1a1a" stroke-width="1.3"/>
<line x1="1649.2" y1="678.9" x2="1665.0" y2="678.9" stroke="#1a1a1a" stroke-width="2.4"/>
<rect x="1389.3" y="549.0" width="367.8" height="283.8" fill="none" stroke="#333333" stroke-width="1.5"/>
<rect x="1389.3" y="509.7" width="367.8" height="39.3" fill="#D9D9D9" stroke="#333333" stroke-width="1.5"/>
<text x="1571.7" y="540.2" text-anchor="middle" font-family="Liberation Sans, Arial, sans-serif" font-weight="bold" font-size="25.5" textLength="337.2" lengthAdjust="spacingAndGlyphs" fill="#0d0d0d">Sum of Hausdorff Distance</text>
<line x1="1383.5" y1="803.4" x2="1389.3" y2="803.4" stroke="#333333" stroke-width="1.3"/>
<text x="1379.5" y="812.6" text-anchor="end" font-family="Liberation Sans, Arial, sans-serif" font-weight="bold" font-size="23.5" fill="#000">2</text>
<line x1="1383.5" y1="734.0" x2="1389.3" y2="734.0" stroke="#333333" stroke-width="1.3"/>
<text x="1379.5" y="743.2" text-anchor="end" font-family="Liberation Sans, Arial, sans-serif" font-weight="bold" font-size="23.5" fill="#000">3</text>
<line x1="1383.5" y1="664.5" x2="1389.3" y2="664.5" stroke="#333333" stroke-width="1.3"/>
<text x="1379.5" y="673.7" text-anchor="end" font-family="Liberation Sans, Arial, sans-serif" font-weight="bold" font-size="23.5" fill="#000">4</text>
<line x1="1383.5" y1="595.1" x2="1389.3" y2="595.1" stroke="#333333" stroke-width="1.3"/>
<text x="1379.5" y="604.3" text-anchor="end" font-family="Liberation Sans, Arial, sans-serif" font-weight="bold" font-size="23.5" fill="#000">5</text>
<line x1="1489.6" y1="832.8" x2="1489.6" y2="838.6" stroke="#333333" stroke-width="1.3"/>
<line x1="1657.0" y1="832.8" x2="1657.0" y2="838.6" stroke="#333333" stroke-width="1.3"/>
<text x="1454.6" y="585.1" font-family="Liberation Sans, Arial, sans-serif" font-size="19.3" textLength="171.0" lengthAdjust="spacingAndGlyphs" fill="#111111" stroke="#111111" stroke-width="0.35">Wilcoxon, p =1.5e-10</text>
</g>
<text x="197.4" y="876.2" text-anchor="middle" font-family="Liberation Sans, Arial, sans-serif" font-weight="bold" font-size="44" fill="#000">HD</text>
<text x="358.5" y="876.2" text-anchor="middle" font-family="Liberation Sans, Arial, sans-serif" font-weight="bold" font-size="44" fill="#000">MS</text>
<text x="607.0" y="876.4" text-anchor="middle" font-family="Liberation Sans, Arial, sans-serif" font-weight="bold" font-size="44" fill="#000">HD</text>
<text x="764.2" y="876.6" text-anchor="middle" font-family="Liberation Sans, Arial, sans-serif" font-weight="bold" font-size="44" fill="#000">MS</text>
<text x="1089.5" y="875.5" text-anchor="middle" font-family="Liberation Sans, Arial, sans-serif" font-weight="bold" font-size="44" fill="#000">HD</text>
<text x="1246.4" y="875.5" text-anchor="middle" font-family="Liberation Sans, Arial, sans-serif" font-weight="bold" font-size="44" fill="#000">MS</text>
<text x="1494.1" y="875.5" text-anchor="middle" font-family="Liberation Sans, Arial, sans-serif" font-weight="bold" font-size="44" fill="#000">HD</text>
<text x="1650.5" y="875.5" text-anchor="middle" font-family="Liberation Sans, Arial, sans-serif" font-weight="bold" font-size="44" fill="#000">MS</text>
</svg>
</body></html>
